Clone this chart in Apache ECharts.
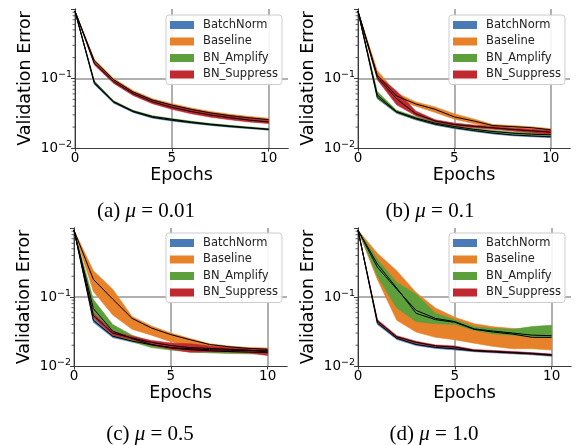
<!DOCTYPE html>
<html><head><meta charset="utf-8">
<script src="https://cdn.jsdelivr.net/npm/echarts@6/dist/echarts.min.js"></script>
<style>html,body{margin:0;padding:0;background:#fff}#c{width:577px;height:445px}</style>
</head><body><div id="c"></div>
<script>
// ---------------- data ----------------
const epochs = [0,1,2,3,4,5,6,7,8,9,10];
const methods = ['BatchNorm','Baseline','BN_Amplify','BN_Suppress'];
const panelLetters = ['(a)','(b)','(c)','(d)'];
const muValues = ['0.01','0.1','0.5','1.0'];
const xTicks = [0,5,10];
const yMinorTicks = [0.02,0.03,0.04,0.05,0.06,0.07,0.08,0.09,0.2,0.3,0.4,0.5,0.6,0.7,0.8,0.9];

// (a) mu = 0.01
const a_BatchNorm_mean = [0.93,0.085,0.0455,0.0333,0.0276,0.0251,0.0232,0.0216,0.0204,0.0194,0.0185];
const a_BatchNorm_lo   = [0.93,0.082,0.0442,0.0325,0.0269,0.0244,0.0226,0.0211,0.0199,0.0190,0.0181];
const a_BatchNorm_hi   = [0.93,0.088,0.0468,0.0341,0.0283,0.0258,0.0238,0.0221,0.0209,0.0198,0.0189];
const a_Baseline_mean  = [0.93,0.180,0.096,0.064,0.049,0.0415,0.036,0.032,0.0292,0.0272,0.0256];
const a_Baseline_lo    = [0.93,0.172,0.092,0.061,0.0468,0.0395,0.0343,0.0305,0.0278,0.0260,0.0244];
const a_Baseline_hi    = [0.93,0.188,0.100,0.067,0.0512,0.0435,0.0377,0.0335,0.0306,0.0285,0.0268];
const a_Amplify_mean   = [0.93,0.089,0.0465,0.034,0.0284,0.0259,0.0237,0.0220,0.0207,0.0196,0.0186];
const a_Amplify_lo     = [0.93,0.086,0.0452,0.0332,0.0277,0.0253,0.0232,0.0215,0.0202,0.0192,0.0182];
const a_Amplify_hi     = [0.93,0.092,0.0478,0.0348,0.0291,0.0265,0.0243,0.0225,0.0212,0.0201,0.0190];
const a_Suppress_mean  = [0.93,0.165,0.090,0.0605,0.0462,0.0385,0.0335,0.0298,0.0273,0.0252,0.0237];
const a_Suppress_lo    = [0.93,0.157,0.085,0.057,0.0435,0.036,0.0312,0.0278,0.0255,0.0237,0.0225];
const a_Suppress_hi    = [0.93,0.173,0.095,0.064,0.049,0.041,0.0358,0.0318,0.0291,0.0267,0.0250];

// (b) mu = 0.1
const b_BatchNorm_mean = [0.93,0.054,0.0328,0.0262,0.0220,0.0196,0.0178,0.0164,0.0154,0.0149,0.0145];
const b_BatchNorm_lo   = [0.93,0.051,0.0316,0.0253,0.0213,0.0190,0.0173,0.0159,0.0150,0.0145,0.0141];
const b_BatchNorm_hi   = [0.93,0.057,0.0340,0.0271,0.0227,0.0202,0.0183,0.0169,0.0158,0.0153,0.0149];
const b_Baseline_mean  = [0.93,0.112,0.056,0.043,0.036,0.028,0.0245,0.0210,0.0203,0.0196,0.0183];
const b_Baseline_lo    = [0.93,0.105,0.050,0.040,0.0325,0.026,0.0225,0.0198,0.0195,0.0188,0.0176];
const b_Baseline_hi    = [0.93,0.130,0.062,0.046,0.039,0.031,0.0262,0.0218,0.0210,0.0202,0.0190];
const b_Amplify_mean   = [0.93,0.058,0.0335,0.0270,0.0228,0.0204,0.0186,0.0173,0.0164,0.0158,0.0155];
const b_Amplify_lo     = [0.93,0.052,0.0320,0.0258,0.0218,0.0196,0.0179,0.0167,0.0158,0.0152,0.0149];
const b_Amplify_hi     = [0.93,0.065,0.0350,0.0282,0.0238,0.0212,0.0193,0.0179,0.0170,0.0164,0.0161];
const b_Suppress_mean  = [0.93,0.104,0.051,0.031,0.0245,0.0218,0.0205,0.0195,0.0185,0.0177,0.0169];
const b_Suppress_lo    = [0.93,0.096,0.042,0.029,0.0235,0.0209,0.0196,0.0186,0.0176,0.0166,0.0156];
const b_Suppress_hi    = [0.93,0.110,0.066,0.034,0.0256,0.0228,0.0214,0.0204,0.0194,0.0186,0.0180];

// (c) mu = 0.5
const c_BatchNorm_mean = [0.93,0.046,0.0270,0.0230,0.0203,0.0185,0.0178,0.0172,0.0169,0.0167,0.0166];
const c_BatchNorm_lo   = [0.93,0.043,0.0258,0.0222,0.0197,0.0180,0.0173,0.0168,0.0165,0.0163,0.0162];
const c_BatchNorm_hi   = [0.93,0.049,0.0282,0.0238,0.0209,0.0190,0.0183,0.0176,0.0173,0.0171,0.0170];
const c_Baseline_mean  = [0.93,0.180,0.093,0.049,0.0355,0.0285,0.0240,0.0205,0.0190,0.0180,0.0175];
const c_Baseline_lo    = [0.93,0.120,0.055,0.034,0.0280,0.0225,0.0195,0.0180,0.0170,0.0165,0.0160];
const c_Baseline_hi    = [0.93,0.240,0.130,0.052,0.0380,0.0300,0.0250,0.0210,0.0195,0.0185,0.0182];
const c_Amplify_mean   = [0.93,0.068,0.0320,0.0250,0.0205,0.0183,0.0172,0.0166,0.0162,0.0159,0.0157];
const c_Amplify_lo     = [0.93,0.052,0.0280,0.0225,0.0185,0.0170,0.0160,0.0155,0.0152,0.0150,0.0148];
const c_Amplify_hi     = [0.93,0.092,0.0400,0.0280,0.0225,0.0196,0.0184,0.0177,0.0172,0.0168,0.0166];
const c_Suppress_mean  = [0.93,0.054,0.0300,0.0255,0.0220,0.0198,0.0185,0.0180,0.0175,0.0170,0.0160];
const c_Suppress_lo    = [0.93,0.050,0.0280,0.0240,0.0200,0.0175,0.0158,0.0160,0.0160,0.0155,0.0142];
const c_Suppress_hi    = [0.93,0.058,0.0315,0.0270,0.0235,0.0215,0.0210,0.0195,0.0185,0.0180,0.0175];

// (d) mu = 1.0
const d_BatchNorm_mean = [0.93,0.042,0.0252,0.0205,0.0186,0.0177,0.0166,0.0160,0.0155,0.0150,0.0143];
const d_BatchNorm_lo   = [0.93,0.040,0.0243,0.0198,0.0180,0.0171,0.0161,0.0155,0.0150,0.0145,0.0138];
const d_BatchNorm_hi   = [0.93,0.044,0.0261,0.0212,0.0192,0.0183,0.0171,0.0165,0.0160,0.0155,0.0148];
const d_Baseline_mean  = [0.93,0.300,0.135,0.058,0.047,0.043,0.034,0.031,0.029,0.026,0.026];
const d_Baseline_lo    = [0.93,0.180,0.046,0.031,0.026,0.024,0.0214,0.0192,0.0178,0.0178,0.0170];
const d_Baseline_hi    = [0.93,0.430,0.240,0.116,0.069,0.051,0.041,0.037,0.035,0.033,0.032];
const d_Amplify_mean   = [0.93,0.270,0.130,0.064,0.049,0.044,0.0345,0.032,0.030,0.028,0.0275];
const d_Amplify_lo     = [0.93,0.200,0.069,0.044,0.041,0.040,0.033,0.029,0.028,0.0265,0.026];
const d_Amplify_hi     = [0.93,0.350,0.162,0.110,0.058,0.047,0.037,0.035,0.034,0.0373,0.039];
const d_Suppress_mean  = [0.93,0.045,0.0265,0.0220,0.0196,0.0188,0.0168,0.0163,0.0157,0.0152,0.0145];
const d_Suppress_lo    = [0.93,0.043,0.0256,0.0212,0.0190,0.0181,0.0163,0.0158,0.0152,0.0148,0.0141];
const d_Suppress_hi    = [0.93,0.047,0.0275,0.0228,0.0202,0.0195,0.0173,0.0168,0.0162,0.0156,0.0149];

// ---------------- assembly ----------------
const panels = [
  {BatchNorm:[a_BatchNorm_mean,a_BatchNorm_lo,a_BatchNorm_hi], Baseline:[a_Baseline_mean,a_Baseline_lo,a_Baseline_hi], BN_Amplify:[a_Amplify_mean,a_Amplify_lo,a_Amplify_hi], BN_Suppress:[a_Suppress_mean,a_Suppress_lo,a_Suppress_hi]},
  {BatchNorm:[b_BatchNorm_mean,b_BatchNorm_lo,b_BatchNorm_hi], Baseline:[b_Baseline_mean,b_Baseline_lo,b_Baseline_hi], BN_Amplify:[b_Amplify_mean,b_Amplify_lo,b_Amplify_hi], BN_Suppress:[b_Suppress_mean,b_Suppress_lo,b_Suppress_hi]},
  {BatchNorm:[c_BatchNorm_mean,c_BatchNorm_lo,c_BatchNorm_hi], Baseline:[c_Baseline_mean,c_Baseline_lo,c_Baseline_hi], BN_Amplify:[c_Amplify_mean,c_Amplify_lo,c_Amplify_hi], BN_Suppress:[c_Suppress_mean,c_Suppress_lo,c_Suppress_hi]},
  {BatchNorm:[d_BatchNorm_mean,d_BatchNorm_lo,d_BatchNorm_hi], Baseline:[d_Baseline_mean,d_Baseline_lo,d_Baseline_hi], BN_Amplify:[d_Amplify_mean,d_Amplify_lo,d_Amplify_hi], BN_Suppress:[d_Suppress_mean,d_Suppress_lo,d_Suppress_hi]}
];

const colors = {BatchNorm:'#4a7bb9', Baseline:'#e8822a', BN_Amplify:'#5c9f3b', BN_Suppress:'#c0292f'};
const grids = [
  {left:75, top:9, width:213, height:139},
  {left:358, top:9, width:212, height:139},
  {left:74, top:228, width:213, height:138},
  {left:358, top:228, width:213, height:138}
];
const legendPos = [{left:166,top:15},{left:449,top:15},{left:166,top:233},{left:449,top:233}];
const titlePos = [{x:146,y:211},{x:430,y:211},{x:150,y:434},{x:434,y:434}];
const FONT = 'DejaVu Sans';
const AX = '#3a3a3a';

const xAxes = [], yAxes = [], series = [], legends = [], graphics = [];

grids.forEach((g, i) => {
  xAxes.push({
    gridIndex:i, type:'value', min:0, max:11, interval:5,
    axisLine:{show:true, onZero:false, lineStyle:{color:AX, width:1}},
    axisTick:{show:true, length:3.5, customValues:xTicks, lineStyle:{color:AX}},
    axisLabel:{customValues:xTicks, margin:3, fontSize:13.5, fontFamily:FONT, color:'#000'},
    splitLine:{show:true, lineStyle:{color:'#b0b0b0', width:2}},
    name:'Epochs', nameLocation:'middle', nameGap:18,
    nameTextStyle:{fontSize:17.5, fontFamily:FONT, color:'#000'}
  });
  yAxes.push({
    gridIndex:i, type:'log', logBase:10, min:0.01, max:1,
    axisLine:{show:true, onZero:false, lineStyle:{color:AX, width:1}},
    axisTick:{show:true, length:4, lineStyle:{color:AX}},
    axisLabel:{
      margin:3, color:'#000',
      formatter: v => { const e = Math.round(Math.log10(v)); return e < 0 ? '{b|10}{s|\u2212' + (-e) + '}' : ''; },
      rich:{ b:{fontSize:13.5, fontFamily:FONT, color:'#000'}, s:{fontSize:9.5, fontFamily:FONT, color:'#000', padding:[0,0,7,0]} }
    },
    splitLine:{show:false},
    name:'Validation Error', nameLocation:'middle', nameGap:41,
    nameTextStyle:{fontSize:17.5, fontFamily:FONT, color:'#000'}
  });
});
// frame (top / right spines)
grids.forEach((g, i) => {
  xAxes.push({gridIndex:i, type:'value', position:'top', min:0, max:1, z:3,
    axisLine:{show:true, lineStyle:{color:AX, width:1}}, axisTick:{show:false}, axisLabel:{show:false}, splitLine:{show:false}});
  yAxes.push({gridIndex:i, type:'value', position:'right', min:0, max:1, z:3,
    axisLine:{show:true, lineStyle:{color:AX, width:1}}, axisTick:{show:false}, axisLabel:{show:false}, splitLine:{show:false}});
});

grids.forEach((g, i) => {
  // horizontal gridline at 10^-1
  series.push({type:'line', xAxisIndex:i, yAxisIndex:i, data:[], z:1, silent:true,
    markLine:{silent:true, symbol:'none', label:{show:false}, animation:false, z:1,
      lineStyle:{color:'#b0b0b0', width:2, type:'solid'}, data:[{yAxis:0.1}]}});
  // log minor ticks on the left axis
  series.push({type:'custom', xAxisIndex:i, yAxisIndex:i, silent:true, clip:false, z:3,
    data: yMinorTicks.map(v => [0, v]),
    renderItem:(params, api) => {
      const p = api.coord([api.value(0), api.value(1)]);
      return {type:'line', shape:{x1:p[0]-2.5, y1:p[1], x2:p[0], y2:p[1]}, style:{stroke:AX, lineWidth:0.8}};
    }});
  // bands
  methods.forEach(m => {
    const [mean, lo, hi] = panels[i][m];
    series.push({
      type:'custom', name:m, xAxisIndex:i, yAxisIndex:i, z:2, silent:true,
      itemStyle:{color:colors[m]},
      data: epochs.map((e, k) => [e, lo[k], hi[k]]),
      encode:{x:0, y:[1,2]},
      renderItem:(params, api) => {
        if (params.dataIndex !== 0) return null;
        const pts = [];
        for (let k = 0; k < epochs.length; k++) pts.push(api.coord([epochs[k], hi[k]]));
        for (let k = epochs.length - 1; k >= 0; k--) pts.push(api.coord([epochs[k], lo[k]]));
        return {type:'polygon', shape:{points:pts}, style:{fill:colors[m], stroke:colors[m], lineWidth:0.6}};
      }
    });
  });
  // mean lines
  methods.forEach(m => {
    const mean = panels[i][m][0];
    series.push({
      type:'line', name:m + ' mean', xAxisIndex:i, yAxisIndex:i, z:4, silent:true,
      symbol:'none', data: epochs.map((e, k) => [e, mean[k]]),
      lineStyle:{color:'#000', width:1}, itemStyle:{color:'#000'}
    });
  });
  legends.push({
    left:legendPos[i].left, top:legendPos[i].top, orient:'vertical', selectedMode:false, z:20,
    data: methods.map(m => ({name:m, itemStyle:{color:colors[m]}})),
    icon:'rect', itemWidth:24, itemHeight:8, itemGap:4.5,
    textStyle:{fontFamily:FONT, fontSize:11.5, color:'#222', padding:[0,0,0,4]},
    padding:[4,4,4,4], backgroundColor:'rgba(255,255,255,0.9)',
    borderColor:'#cccccc', borderWidth:1, borderRadius:3
  });
  graphics.push({
    type:'text', x:titlePos[i].x, y:titlePos[i].y, z:20,
    style:{
      text: panelLetters[i] + ' {i|\u03bc} = ' + muValues[i],
      align:'center', verticalAlign:'middle',
      font:'21px "Liberation Serif"', fill:'#000',
      rich:{ i:{fontStyle:'italic', fontFamily:'Liberation Serif', fontSize:21, fill:'#000'} }
    }
  });
});

const chart = echarts.init(document.getElementById('c'), null, {renderer:'canvas'});
chart.setOption({
  animation:false,
  grid: grids,
  xAxis: xAxes,
  yAxis: yAxes,
  legend: legends,
  graphic: graphics,
  series: series
});
</script>
</body></html>
